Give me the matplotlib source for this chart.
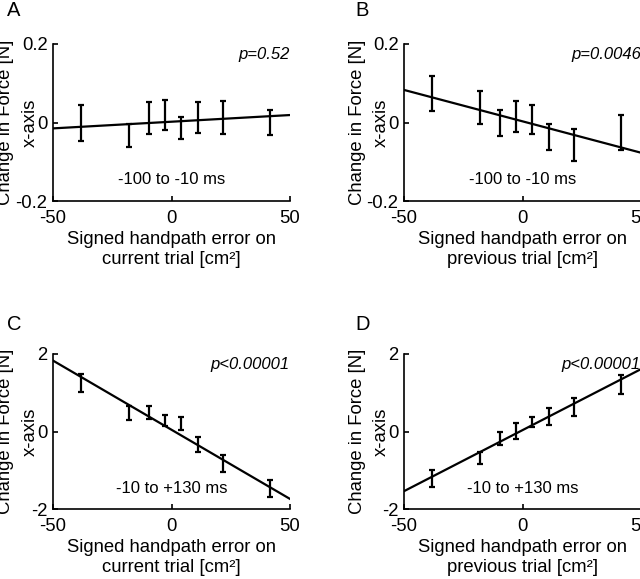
import matplotlib
matplotlib.use("Agg")
import matplotlib.pyplot as plt

plt.rcParams["font.family"] = ["Liberation Sans", "DejaVu Sans"]
plt.rcParams["axes.unicode_minus"] = False

# x positions of the binned handpath errors (same bins in every panel)
bin_x = [-38.3, -17.9, -9.3, -2.7, 4.2, 11.1, 21.7, 41.4]

# panel A: current trial, -100 to -10 ms
a_mean = [-0.001, -0.033, 0.011, 0.019, -0.014, 0.013, 0.013, 0.000]
a_err = [0.046, 0.029, 0.040, 0.039, 0.029, 0.040, 0.043, 0.033]
a_fit = [-0.015, 0.019]

# panel B: previous trial, -100 to -10 ms
b_mean = [0.074, 0.038, -0.001, 0.016, 0.008, -0.037, -0.057, -0.025]
b_err = [0.045, 0.042, 0.033, 0.040, 0.037, 0.034, 0.040, 0.045]
b_fit = [0.083, -0.077]

# panel C: current trial, -10 to +130 ms
c_mean = [1.25, 0.47, 0.48, 0.28, 0.20, -0.33, -0.83, -1.46]
c_err = [0.23, 0.18, 0.17, 0.15, 0.17, 0.20, 0.22, 0.22]
c_fit = [1.83, -1.74]

# panel D: previous trial, -10 to +130 ms
d_mean = [-1.22, -0.68, -0.17, 0.01, 0.24, 0.39, 0.63, 1.21]
d_err = [0.22, 0.16, 0.17, 0.20, 0.13, 0.22, 0.24, 0.25]
d_fit = [-1.54, 1.61]

fit_x = [-50, 50]

panels = [
    ("A", a_mean, a_err, a_fit, "current", "p=0.52", "-100 to -10 ms", 0.2),
    ("B", b_mean, b_err, b_fit, "previous", "p=0.0046", "-100 to -10 ms", 0.2),
    ("C", c_mean, c_err, c_fit, "current", "p<0.00001", "-10 to +130 ms", 2),
    ("D", d_mean, d_err, d_fit, "previous", "p<0.00001", "-10 to +130 ms", 2),
]

W, H = 640, 579
fig = plt.figure(figsize=(W / 100, H / 100), dpi=100)

# axes boxes in pixels: left, top, right, bottom
boxes = [(53, 44, 290, 201), (404, 44, 641, 201),
         (53, 354, 290, 509), (404, 354, 641, 509)]
letters_xy = [(7, 10), (355, 10), (7, 324), (355, 324)]


def px(x, y):
    return x / W, 1 - y / H


for (letter, mean, err, fit, trial, ptxt, wintxt, lim), box, lxy in zip(panels, boxes, letters_xy):
    l, t, r, b = box
    ax = fig.add_axes([l / W, 1 - b / H, (r - l) / W, (b - t) / H])
    ax.errorbar(bin_x, mean, yerr=err, fmt="none", ecolor="black",
                elinewidth=1.6, capsize=2.5, capthick=1.6)
    ax.plot(fit_x, fit, color="black", linewidth=1.6)
    ax.set_xlim(-50, 50)
    ax.set_ylim(-lim, lim)
    ax.set_xticks([-50, 0, 50])
    ax.set_yticks([-lim, 0, lim])
    if lim < 1:
        ax.set_yticklabels(["-0.2", "0", "0.2"])
    else:
        ax.set_yticklabels(["-2", "0", "2"])
    for side in ["top", "right"]:
        ax.spines[side].set_visible(False)
    for side in ["left", "bottom"]:
        ax.spines[side].set_linewidth(1.2)
    ax.tick_params(direction="in", length=3.5, width=1.2, labelsize=13.3)
    ax.tick_params(axis="y", pad=4)
    ax.tick_params(axis="x", pad=6.5)
    ax.text(50, lim * 0.87, ptxt, ha="right", va="center", style="italic", fontsize=12)
    ax.text(0, -lim * 0.73, wintxt, ha="center", va="center", fontsize=12)

    # y label: two lines, placed by hand
    yc = (t + b) / 2
    fig.text(*px(l - 47, yc), "Change in Force [N]", rotation=90,
             ha="center", va="center", fontsize=13.3)
    fig.text(*px(l - 22.5, yc), "x-axis", rotation=90,
             ha="center", va="center", fontsize=13.3)

    # x label: two lines
    xc = (l + r) / 2
    fig.text(*px(xc, b + 38), "Signed handpath error on",
             ha="center", va="center", fontsize=13.3)
    fig.text(*px(xc, b + 58), "%s trial [cm²]" % trial,
             ha="center", va="center", fontsize=13.3)

    fig.text(*px(*lxy), letter, ha="left", va="center", fontsize=14.5)

fig.savefig("out.png", dpi=100)
